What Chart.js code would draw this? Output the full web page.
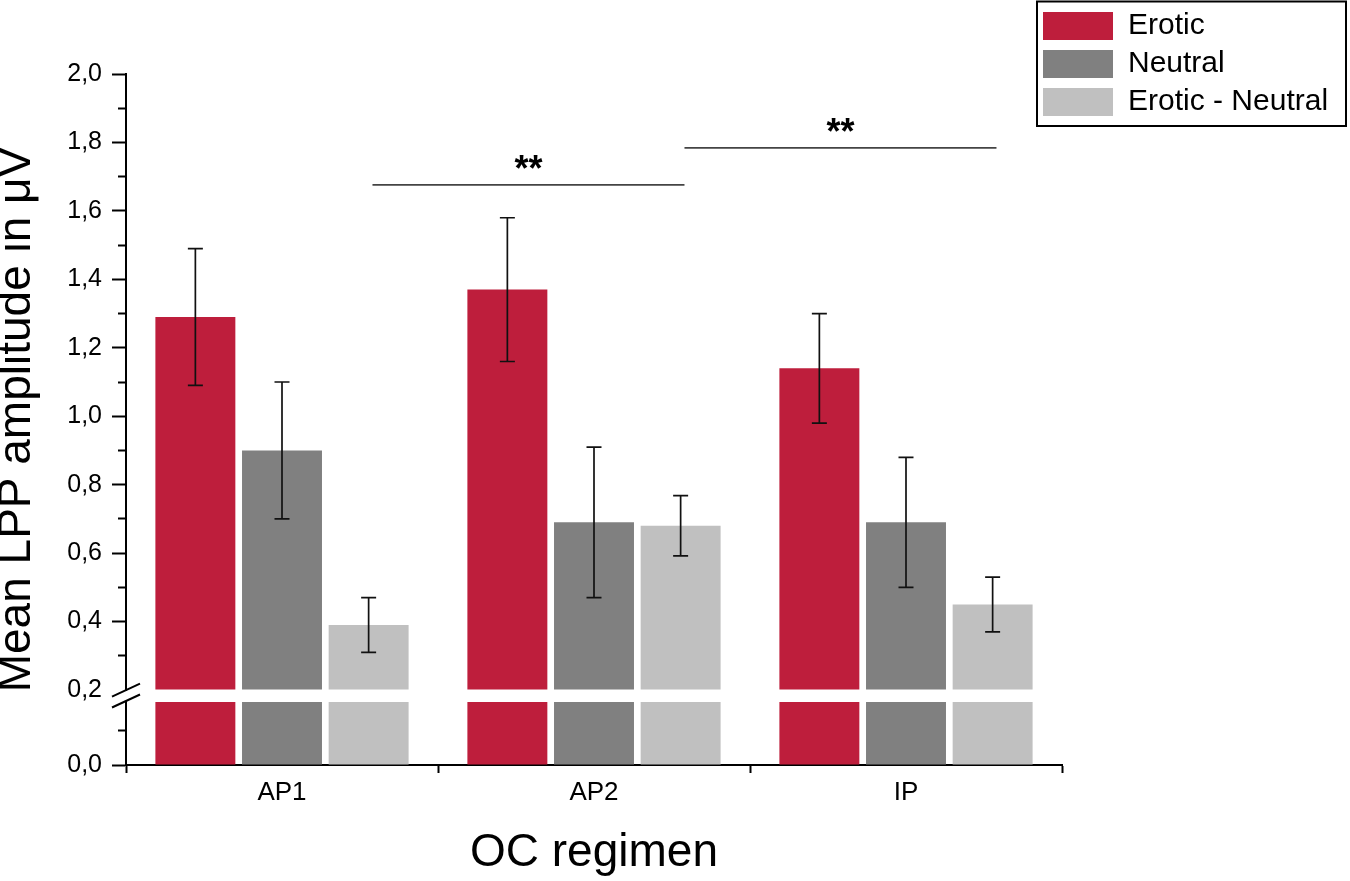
<!DOCTYPE html>
<html>
<head>
<meta charset="utf-8">
<script src="https://cdn.jsdelivr.net/npm/chart.js@4.4.1/dist/chart.umd.min.js"></script>
<style>
  html, body { margin: 0; padding: 0; background: #ffffff; }
  #c { display: block; }
</style>
</head>
<body>
<canvas id="c" width="1350" height="881" style="width:1350px;height:881px"></canvas>
<script>
// ---------------- data ----------------
const CATEGORIES = ['AP1', 'AP2', 'IP'];
const SERIES_LABELS = ['Erotic', 'Neutral', 'Erotic - Neutral'];
const EROTIC = [1.29, 1.37, 1.14];
const NEUTRAL = [0.90, 0.69, 0.69];
const EROTIC_MINUS_NEUTRAL = [0.39, 0.68, 0.45];
const EROTIC_ERR = [0.20, 0.21, 0.16];
const NEUTRAL_ERR = [0.20, 0.22, 0.19];
const DIFF_ERR = [0.08, 0.088, 0.08];
const Y_MAJOR_TICKS = [0.0, 0.2, 0.4, 0.6, 0.8, 1.0, 1.2, 1.4, 1.6, 1.8, 2.0];
const Y_MINOR_TICKS = [0.1, 0.3, 0.5, 0.7, 0.9, 1.1, 1.3, 1.5, 1.7, 1.9];
const SIG_FROM = [0.29, 1.29];     // category units
const SIG_TO = [1.29, 2.29];
const SIG_LEVEL = [1.676, 1.784];  // µV
const SIG_TEXT = ['**', '**'];
const BREAK_LOW = 0.184;   // top of lower axis segment
const BREAK_HIGH = 0.2;    // bottom of upper axis segment
const Y_MAX = 2.0;
const GAP_SIZE = 0.035;    // visual size of the break gap in value units

// ---------------- styles ----------------
const COLORS = ['#BE1E3C', '#808080', '#C0C0C0'];
const FONT = '"Liberation Sans", Arial, Helvetica, sans-serif';
Chart.defaults.font.family = FONT;
Chart.defaults.color = '#000';

const SERIES_VALUES = [EROTIC, NEUTRAL, EROTIC_MINUS_NEUTRAL];
const SERIES_ERR = [EROTIC_ERR, NEUTRAL_ERR, DIFF_ERR];

const barCommon = { categoryPercentage: 0.833, barPercentage: 0.923, borderWidth: 0, xAxisID: 'x' };
const datasets = [];
SERIES_VALUES.forEach((vals, i) => {
  datasets.push(Object.assign({
    label: SERIES_LABELS[i], data: vals, errors: SERIES_ERR[i],
    backgroundColor: COLORS[i], yAxisID: 'yU', stack: 's' + i, base: BREAK_HIGH
  }, barCommon));
});
SERIES_VALUES.forEach((vals, i) => {
  datasets.push(Object.assign({
    label: SERIES_LABELS[i], data: vals.map(v => Math.min(v, BREAK_LOW)), lower: true,
    backgroundColor: COLORS[i], yAxisID: 'yL', stack: 's' + i
  }, barCommon));
});

const fmt = v => v.toFixed(1).replace('.', ',');
const near = (a, b) => Math.abs(a - b) < 1e-6;
const isMajor = v => Y_MAJOR_TICKS.some(m => near(m, v));
const tickSet = (lo, hi) => Y_MAJOR_TICKS.concat(Y_MINOR_TICKS)
  .filter(v => v >= lo - 1e-9 && v <= hi + 1e-9).sort((a, b) => a - b).map(v => ({ value: v }));

const TITLE_W = 45, AXIS_W = 81;

function yAxis(lo, hi, weight) {
  return {
    type: 'linear', position: 'left', stack: 'ystack', stackWeight: hi - lo, weight: weight,
    min: lo, max: hi, beginAtZero: false,
    afterBuildTicks: s => { s.ticks = tickSet(lo, hi); },
    afterFit: s => { s.width = AXIS_W; },
    grid: {
      drawOnChartArea: false, drawTicks: true, tickLength: 14, tickWidth: 2,
      tickColor: c => (c.tick && near(c.tick.value, BREAK_HIGH)) ? 'rgba(0,0,0,0)' : '#000',
      tickBorderDash: c => (c.tick && !isMajor(c.tick.value)) ? [0, 6, 8, 40] : []
    },
    border: { display: true, color: '#000', width: 2 },
    ticks: {
      autoSkip: false, padding: 10, color: '#000', font: { size: 25 },
      callback: v => isMajor(v) ? fmt(v) : ''
    }
  };
}

// ---------------- plugins ----------------
const decorations = {
  id: 'decorations',
  afterLayout(chart) {
    const lg = chart.legend;
    if (!lg) return;
    lg.left = 1035; lg.top = 3;
    lg.right = chart.width; lg.bottom = chart.height;
    lg.width = lg.right - lg.left; lg.height = lg.bottom - lg.top;
  },
  afterDatasetsDraw(chart) {
    const ctx = chart.ctx;
    ctx.save();
    // error bars
    ctx.strokeStyle = '#111';
    ctx.lineWidth = 1.7;
    chart.data.datasets.forEach((ds, i) => {
      if (!ds.errors) return;
      const meta = chart.getDatasetMeta(i);
      const ys = chart.scales[meta.yAxisID];
      meta.data.forEach((bar, j) => {
        const v = ds.data[j], e = ds.errors[j];
        const x = bar.x;
        const y1 = ys.getPixelForValue(v + e), y2 = ys.getPixelForValue(v - e);
        const hw = 7.5;
        ctx.beginPath();
        ctx.moveTo(x, y1); ctx.lineTo(x, y2);
        ctx.moveTo(x - hw, y1); ctx.lineTo(x + hw, y1);
        ctx.moveTo(x - hw, y2); ctx.lineTo(x + hw, y2);
        ctx.stroke();
      });
    });
    ctx.restore();
  },
  afterDraw(chart) {
    const ctx = chart.ctx;
    const xs = chart.scales.x, yU = chart.scales.yU, yL = chart.scales.yL;
    ctx.save();
    // significance lines
    ctx.strokeStyle = '#444';
    ctx.lineWidth = 1.8;
    ctx.fillStyle = '#000';
    ctx.font = 'bold 36px ' + FONT;
    ctx.textAlign = 'center';
    ctx.textBaseline = 'alphabetic';
    SIG_LEVEL.forEach((lvl, k) => {
      const xa = xs.getPixelForValue(SIG_FROM[k]);
      const xb = xs.getPixelForValue(SIG_TO[k]);
      const y = yU.getPixelForValue(lvl);
      ctx.beginPath(); ctx.moveTo(xa, y); ctx.lineTo(xb, y); ctx.stroke();
      ctx.fillText(SIG_TEXT[k], (xa + xb) / 2, y - 4);
    });
    // axis break marks
    ctx.strokeStyle = '#000';
    ctx.lineWidth = 2;
    const ax = yU.right;
    [yU.bottom, yL.top - 1].forEach(y => {
      ctx.beginPath(); ctx.moveTo(ax - 14, y + 6.5); ctx.lineTo(ax + 14, y - 6.5); ctx.stroke();
    });
    // legend frame
    const lg = chart.legend;
    ctx.lineWidth = 2;
    ctx.strokeRect(lg.left + 2, lg.top - 1.5, 309, 124.5);
    ctx.restore();
  }
};

new Chart(document.getElementById('c'), {
  type: 'bar',
  data: { labels: CATEGORIES, datasets: datasets },
  options: {
    responsive: false,
    animation: false,
    events: [],
    layout: { padding: { left: 0, right: 288, top: 74, bottom: 0 } },
    plugins: {
      tooltip: { enabled: false },
      legend: {
        position: 'chartArea', fullSize: false, align: 'start',
        labels: {
          boxWidth: 70, boxHeight: 28, padding: 8, color: '#000', font: { size: 30 },
          filter: (item, data) => !data.datasets[item.datasetIndex].lower
        }
      }
    },
    scales: {
      x: {
        type: 'category', position: 'bottom', offset: true,
        afterFit: s => { s.height = 116; },
        grid: { offset: true, drawOnChartArea: false, drawTicks: true, tickLength: 8, tickWidth: 2, tickColor: '#000' },
        border: { display: true, color: '#000', width: 2 },
        ticks: { padding: 4, color: '#000', font: { size: 26 } },
        title: { display: true, text: 'OC regimen', color: '#000', font: { size: 46 }, padding: 0 }
      },
      yT: {
        type: 'linear', position: 'left', weight: 10,
        afterFit: s => { s.width = TITLE_W; },
        grid: { display: false }, border: { display: false }, ticks: { display: false },
        title: { display: true, text: 'Mean LPP amplitude in μV', color: '#000',
                 font: { size: 46, lineHeight: 0.75 }, padding: 0 }
      },
      yL: yAxis(0, BREAK_LOW, 1),
      yG: {
        type: 'linear', position: 'left', stack: 'ystack', stackWeight: GAP_SIZE, weight: 2,
        min: 0, max: 1,
        afterFit: s => { s.width = AXIS_W; },
        grid: { display: false }, border: { display: false }, ticks: { display: false }
      },
      yU: yAxis(BREAK_HIGH, Y_MAX, 3)
    }
  },
  plugins: [decorations]
});
</script>
</body>
</html>
